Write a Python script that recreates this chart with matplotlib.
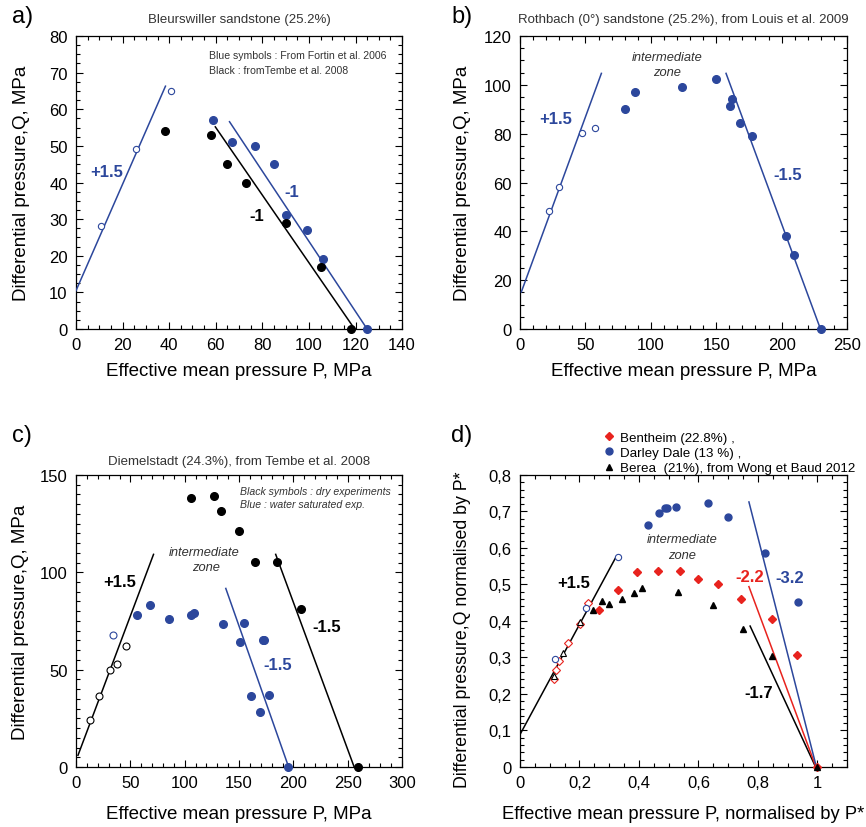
import numpy as np
from matplotlib import pyplot as plt
from matplotlib.ticker import MultipleLocator, FuncFormatter

plt.rcParams['font.family'] = ['Liberation Sans', 'DejaVu Sans']

BLUE = '#2c479c'
RED = '#e8231e'
GREY = '#333333'

# ---- panel a : Bleurswiller ----
a_blue_open_P = [10.6, 25.8, 40.6]
a_blue_open_Q = [28.1, 49.1, 65.0]
a_blue_P = [59, 67, 77, 85, 90, 99, 106, 125]
a_blue_Q = [57, 51, 50, 45, 31, 27, 19, 0]
a_black_P = [38, 58, 65, 73, 90, 105, 118]
a_black_Q = [54, 53, 45, 40, 29, 17, 0]
a_pos_P, a_pos_Q = [0, 38.4], [10.5, 66.3]
a_negb_P, a_negb_Q = [65.9, 125], [56.6, 0]
a_negk_P, a_negk_Q = [59.8, 120.5], [55.2, -0.8]

# ---- panel b : Rothbach ----
b_open_P = [21.9, 30.1, 47.4, 57.1]
b_open_Q = [48.3, 58.2, 80.3, 82.2]
b_fill_P = [80, 87.9, 123.9, 149.9, 160.8, 162.1, 168, 177.4, 203.7, 209.8, 230.1]
b_fill_Q = [90.2, 97.2, 99.2, 102.2, 91.3, 94.3, 84.2, 79.2, 38.2, 30.3, 0]
b_pos_P, b_pos_Q = [1, 62.2], [15.2, 104.7]
b_neg_P, b_neg_Q = [157.5, 229.7], [104.7, 0]

# ---- panel c : Diemelstadt ----
c_black_open_P = [12.5, 21.4, 31.5, 37.9, 45.9]
c_black_open_Q = [24.2, 36.2, 50.0, 53.1, 62.0]
c_blue_open_P = [34.0]
c_blue_open_Q = [68.0]
c_blue_P = [55.7, 68, 85.7, 105.6, 108.7, 135, 150.6, 154.9, 172, 173, 160.7, 169.6, 177.6, 194.7]
c_blue_Q = [78, 83, 76.1, 78, 79.2, 73.2, 64.1, 74.2, 65.1, 65.1, 36.2, 28.1, 37, 0]
c_black_P = [105.9, 126.7, 133.5, 149.7, 164.7, 184.6, 206.7, 259.3]
c_black_Q = [138.3, 139.2, 131.3, 121.2, 105.1, 105.1, 81.1, 0]
c_pos_P, c_pos_Q = [1.8, 71.3], [6, 109.2]
c_negk_P, c_negk_Q = [183.7, 255.9], [109.2, 0]
c_negb_P, c_negb_Q = [137.8, 195.6], [91.7, 0]

# ---- panel d : normalised ----
d_bent_P = [0.264, 0.33, 0.392, 0.463, 0.538, 0.60, 0.665, 0.744, 0.848, 0.933, 1.0]
d_bent_Q = [0.431, 0.484, 0.534, 0.536, 0.536, 0.516, 0.501, 0.460, 0.406, 0.307, 0.0]
d_bent_open_P = [0.114, 0.12, 0.131, 0.161, 0.2025, 0.227]
d_bent_open_Q = [0.242, 0.267, 0.29, 0.34, 0.393, 0.448]
d_dd_P = [0.429, 0.466, 0.488, 0.494, 0.523, 0.6325, 0.6985, 0.8225, 0.935]
d_dd_Q = [0.662, 0.697, 0.710, 0.710, 0.712, 0.723, 0.686, 0.586, 0.451]
d_dd_open_P = [0.117, 0.2225, 0.3286]
d_dd_open_Q = [0.296, 0.435, 0.575]
d_berea_P = [0.245, 0.277, 0.30, 0.342, 0.383, 0.411, 0.533, 0.648, 0.751, 0.848, 1.0]
d_berea_Q = [0.431, 0.455, 0.447, 0.46, 0.476, 0.489, 0.479, 0.445, 0.378, 0.304, 0.0]
d_berea_open_P = [0.113, 0.144, 0.201]
d_berea_open_Q = [0.249, 0.313, 0.398]
d_pos_P, d_pos_Q = [0, 0.32], [0.089, 0.571]
d_negb_P, d_negb_Q = [0.77, 1.0], [0.726, -0.01]
d_negr_P, d_negr_Q = [0.77, 1.0], [0.494, -0.01]
d_negk_P, d_negk_Q = [0.774, 1.0], [0.386, -0.01]


fig = plt.figure(figsize=(8.66, 8.28), dpi=100)
axa = fig.add_axes([0.0878, 0.6014, 0.3765, 0.3539])
axb = fig.add_axes([0.6005, 0.6014, 0.3776, 0.3539])
axc = fig.add_axes([0.0878, 0.0725, 0.3765, 0.3527])
axd = fig.add_axes([0.6005, 0.0725, 0.3776, 0.3527])


def style(ax, xmax, ymax, xmaj, xmin, ymaj, ymin):
  ax.set_xlim(0, xmax)
  ax.set_ylim(0, ymax)
  ax.xaxis.set_major_locator(MultipleLocator(xmaj))
  ax.xaxis.set_minor_locator(MultipleLocator(xmin))
  ax.yaxis.set_major_locator(MultipleLocator(ymaj))
  ax.yaxis.set_minor_locator(MultipleLocator(ymin))
  ax.tick_params(which='both', direction='in', top=True, right=True, width=0.8)
  ax.tick_params(which='major', length=5, labelsize=12, pad=6)
  ax.tick_params(which='minor', length=3)
  for s in ax.spines.values():
    s.set_linewidth(0.9)


def filled(ax, P, Q, c, ms=5.5, m='o'):
  ax.plot(P, Q, m, color=c, ms=ms, mec=c, ls='none', clip_on=False, zorder=4)


def hollow(ax, P, Q, c, ms=4.5, m='o'):
  ax.plot(P, Q, m, mfc='white', mec=c, ms=ms, mew=0.8, ls='none', clip_on=False, zorder=4)


def line(ax, P, Q, c):
  ax.plot(P, Q, '-', color=c, lw=1.1, zorder=3)


SL = dict(fontsize=12, fontweight='bold', ha='center', va='center')
IZ = dict(fontsize=9.3, style='italic', color=GREY, ha='center', va='center')

# a)
style(axa, 140, 80, 20, 5, 10, 2.5)
line(axa, a_pos_P, a_pos_Q, BLUE)
line(axa, a_negb_P, a_negb_Q, BLUE)
line(axa, a_negk_P, a_negk_Q, 'black')
hollow(axa, a_blue_open_P, a_blue_open_Q, BLUE)
filled(axa, a_blue_P, a_blue_Q, BLUE)
filled(axa, a_black_P, a_black_Q, 'black')
axa.text(13.3, 43.1, '+1.5', color=BLUE, **SL)
axa.text(92.8, 37.5, '-1', color=BLUE, **SL)
axa.text(77.8, 31, '-1', color='black', **SL)
axa.text(57, 74.8, 'Blue symbols : From Fortin et al. 2006', fontsize=7.6, color=GREY, va='center')
axa.text(57, 70.7, 'Black : fromTembe et al. 2008', fontsize=7.6, color=GREY, va='center')
axa.set_title('Bleurswiller sandstone (25.2%)', fontsize=9.5, color=GREY, pad=10)

# b)
style(axb, 250, 120, 50, 10, 20, 5)
line(axb, b_pos_P, b_pos_Q, BLUE)
line(axb, b_neg_P, b_neg_Q, BLUE)
hollow(axb, b_open_P, b_open_Q, BLUE)
filled(axb, b_fill_P, b_fill_Q, BLUE)
axb.text(27, 86.2, '+1.5', color=BLUE, **SL)
axb.text(205, 63.3, '-1.5', color=BLUE, **SL)
axb.text(112.4, 111.4, 'intermediate', **IZ)
axb.text(112.4, 105.2, 'zone', **IZ)
axb.set_title('Rothbach (0°) sandstone (25.2%), from Louis et al. 2009', fontsize=9.5, color=GREY, pad=10)

# c)
style(axc, 300, 150, 50, 10, 50, 5)
line(axc, c_pos_P, c_pos_Q, 'black')
line(axc, c_negk_P, c_negk_Q, 'black')
line(axc, c_negb_P, c_negb_Q, BLUE)
hollow(axc, c_black_open_P, c_black_open_Q, 'black', ms=5)
hollow(axc, c_blue_open_P, c_blue_open_Q, BLUE, ms=5)
filled(axc, c_blue_P, c_blue_Q, BLUE)
filled(axc, c_black_P, c_black_Q, 'black')
axc.text(39.8, 95.1, '+1.5', color='black', **SL)
axc.text(230.5, 72.2, '-1.5', color='black', **SL)
axc.text(185.2, 52.4, '-1.5', color=BLUE, **SL)
axc.text(117.8, 110.6, 'intermediate', **IZ)
axc.text(119.4, 102.7, 'zone', **IZ)
axc.text(151, 141.6, 'Black symbols : dry experiments', fontsize=7.6, style='italic', color=GREY, va='center')
axc.text(151, 135.1, 'Blue : water saturated exp.', fontsize=7.6, style='italic', color=GREY, va='center')
axc.set_title('Diemelstadt (24.3%), from Tembe et al. 2008', fontsize=9.5, color=GREY, pad=8)

# d)
style(axd, 1.1, 0.8, 0.2, 0.05, 0.1, 0.02)
comma = FuncFormatter(lambda v, pos: '{:g}'.format(round(v, 2)).replace('.', ','))
axd.xaxis.set_major_formatter(comma)
axd.yaxis.set_major_formatter(comma)
line(axd, d_pos_P, d_pos_Q, 'black')
line(axd, d_negk_P, d_negk_Q, 'black')
line(axd, d_negr_P, d_negr_Q, RED)
line(axd, d_negb_P, d_negb_Q, BLUE)
hollow(axd, d_bent_open_P, d_bent_open_Q, RED, ms=4, m='D')
hollow(axd, d_dd_open_P, d_dd_open_Q, BLUE, ms=4.5)
hollow(axd, d_berea_open_P, d_berea_open_Q, 'black', ms=4.5, m='^')
hb, = axd.plot(d_bent_P, d_bent_Q, 'D', color=RED, ms=4, ls='none', clip_on=False, zorder=4)
hd, = axd.plot(d_dd_P, d_dd_Q, 'o', color=BLUE, ms=5, ls='none', clip_on=False, zorder=4)
hk, = axd.plot(d_berea_P, d_berea_Q, '^', color='black', ms=5, ls='none', clip_on=False, zorder=4)
axd.text(0.179, 0.5066, '+1.5', color='black', **SL)
axd.text(0.7723, 0.521, '-2.2', color=RED, **SL)
axd.text(0.9064, 0.519, '-3.2', color=BLUE, **SL)
axd.text(0.8025, 0.203, '-1.7', color='black', **SL)
axd.text(0.5454, 0.625, 'intermediate', **IZ)
axd.text(0.5454, 0.582, 'zone', **IZ)
axd.legend([hb, hd, hk],
           ['Bentheim (22.8%) ,', 'Darley Dale (13 %) ,', 'Berea  (21%), from Wong et Baud 2012'],
           loc='lower left', bbox_to_anchor=(0.225, 0.97), frameon=False, fontsize=9.6,
           handlelength=0.9, handletextpad=0.35, labelspacing=0.22, borderpad=0.2)

for ax in (axa, axb, axc):
  ax.set_xlabel('Effective mean pressure P, MPa', fontsize=13.5)
  ax.set_ylabel('Differential pressure,Q, MPa', fontsize=13.5)
axd.set_xlabel('Effective mean pressure P, normalised by P*', fontsize=13.2)
axd.set_ylabel('Differential pressure,Q normalised by P*', fontsize=12.8)

axa.xaxis.set_label_coords(0.5, -0.114)
axb.xaxis.set_label_coords(0.5, -0.114)
axc.xaxis.set_label_coords(0.5, -0.13)
axd.xaxis.set_label_coords(0.5, -0.13)
axa.yaxis.set_label_coords(-0.141, 0.5)
axb.yaxis.set_label_coords(-0.151, 0.5)
axc.yaxis.set_label_coords(-0.143, 0.5)
axd.yaxis.set_label_coords(-0.151, 0.475)

fig.text(0.014, 0.979, 'a)', fontsize=17, va='center')
fig.text(0.521, 0.979, 'b)', fontsize=17, va='center')
fig.text(0.014, 0.474, 'c)', fontsize=17, va='center')
fig.text(0.521, 0.474, 'd)', fontsize=17, va='center')

plt.savefig('out.png', dpi=100)
